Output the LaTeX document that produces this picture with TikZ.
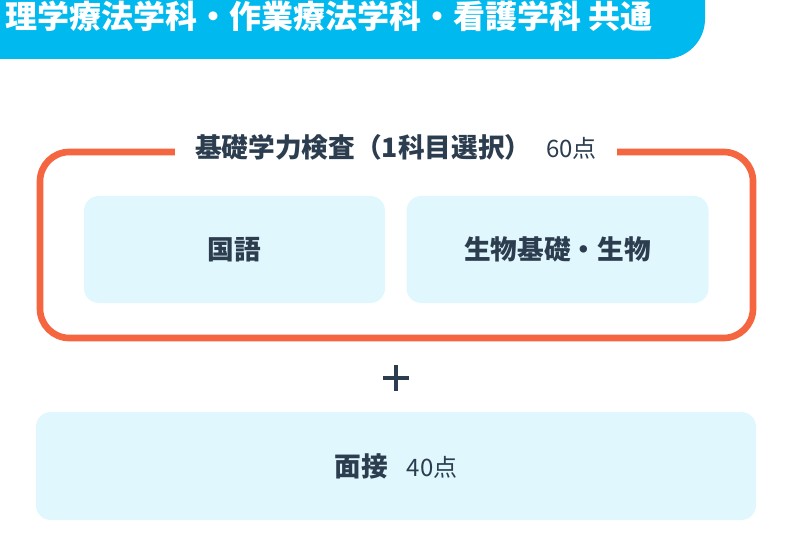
\documentclass[tikz,border=0pt]{standalone}
\usepackage{fontspec}
\setmainfont{Noto Sans CJK JP}
\usetikzlibrary{positioning}

\definecolor{bleuciel}{HTML}{00B9EF}
\definecolor{orangecadre}{HTML}{F46540}
\definecolor{fondcase}{HTML}{E0F7FD}
\definecolor{encre}{HTML}{2C3D4F}

\begin{document}
\begin{tikzpicture}[x=0.75pt,y=-0.75pt,
    case/.style={fill=fondcase, rounded corners=11pt, text=encre,
        font=\bfseries\fontsize{20}{24}\selectfont, minimum height=80.25pt, inner sep=0pt},
    cadre/.style={draw=orangecadre, line width=5pt, rounded corners=22pt},
    point/.style={font=\mdseries\fontsize{16}{20}\selectfont}]
    \useasboundingbox (0,0) rectangle (792,552);

    % === BANDEAU ===
    \fill[bleuciel] (0,-5) -- (705,-5) -- (705,19) arc[start angle=0,end angle=90,radius=40] -- (0,59) -- cycle;
    \node[anchor=west, text=white, font=\bfseries\fontsize{24}{27}\selectfont, inner sep=0pt] (titre) at (5,16) {理学療法学科・作業療法学科・看護学科 共通};

    % === CADRE ===
    \draw[cadre] (40,152) rectangle (753,338);
    \node[fill=white, text=encre, inner xsep=15pt, inner ysep=2pt] (examen) at (396,147)
        {{\bfseries\fontsize{20}{24}\selectfont 基礎学力検査（1科目選択）}\hspace{11pt}{\fontsize{18}{22}\selectfont 60点}};
    % Matières au choix
    \node[case, minimum width=225.75pt] (kokugo) at (234.5,249.5) {国語};
    \node[case, minimum width=226.5pt, right=15.75pt of kokugo] (seibutsu) {生物基礎・生物};

    % Plus
    \draw[encre, line width=2.4pt] (383,378) -- (409,378) (396,365) -- (396,391);

    % === ENTRETIEN ===
    \node[case, minimum width=540pt, minimum height=81pt] (mensetsu) at (396,466)
        {面接\hspace{14pt}{\mdseries\fontsize{18}{22}\selectfont 40点}};
\end{tikzpicture}
\end{document}
